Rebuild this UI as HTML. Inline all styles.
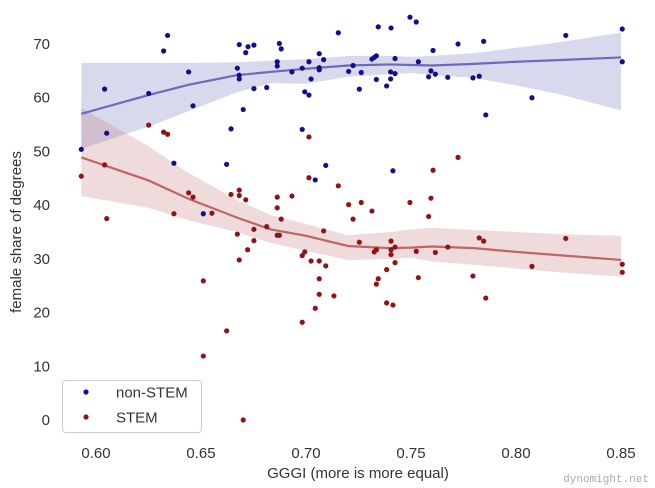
<!DOCTYPE html>
<html><head><meta charset="utf-8"><style>
html,body{margin:0;padding:0;background:#fff;}
svg{display:block;font-family:"Liberation Sans",sans-serif;}
</style></head><body>
<svg id="chart" width="655" height="488" viewBox="0 0 655 488"></svg>
<script>
const fitX=[0.593,0.625,0.644,0.667,0.683,0.70,0.72,0.74,0.75,0.76,0.78,0.80,0.82,0.85];
const blueFit=[57.0,60.5,62.4,64.2,64.8,65.4,66.0,66.2,66.1,66.0,66.3,66.7,67.0,67.5];
const blueUpper=[66.5,66.5,66.5,66.6,66.9,67.2,67.8,67.8,67.6,67.8,68.3,69.3,70.3,72.1];
const blueLower=[50.5,54.6,57.5,61.0,62.7,62.6,63.9,64.4,64.6,64.2,63.7,62.3,60.7,57.7];
const redFit=[48.9,44.6,41.2,37.7,35.5,34.3,32.4,32.0,32.1,32.3,32.0,31.3,30.7,29.8];
const redUpper=[58.1,51,46.0,41,38.2,36.5,34.4,35.0,35.5,35.8,35.4,35.0,34.6,34.3];
const redLower=[41.7,39.5,37.2,35,33.0,31.5,29.8,30,30.2,29.5,28.9,28.2,27.5,26.7];
const nonStemX=[0.6341,0.6322,0.6682,0.6724,0.6752,0.6713,0.6441,0.6673,0.6682,0.6682,0.6041,0.6251,0.6752,0.6813,0.6462,0.6701,0.6051,0.6643,0.5930,0.6371,0.6622,0.6511,0.6873,0.6882,0.7154,0.7344,0.7405,0.7495,0.7525,0.7724,0.7605,0.6863,0.6863,0.6933,0.6982,0.7014,0.7063,0.7084,0.7063,0.7063,0.7024,0.6994,0.7014,0.7203,0.7224,0.7263,0.7254,0.7314,0.7325,0.7335,0.7424,0.7403,0.7424,0.7335,0.7403,0.7384,0.7535,0.7595,0.7584,0.7616,0.7675,0.6982,0.7094,0.7044,0.7414,0.7846,0.8237,0.8506,0.8506,0.7795,0.7825,0.8076,0.7856];
const nonStemY=[71.6,68.7,69.9,69.5,69.8,68.4,64.8,65.5,64.2,63.5,61.6,60.8,61.7,61.9,58.5,57.8,53.4,54.2,50.4,47.8,47.6,38.4,70.1,69.1,72.1,73.2,73.0,75.0,74.1,70.0,68.8,66.7,65.9,64.8,65.5,66.7,68.2,67.1,65.6,65.2,63.5,61.1,60.5,64.9,66.0,64.7,61.6,67.2,67.5,67.8,67.3,64.8,64.5,63.4,63.5,62.2,66.7,65.0,63.9,64.4,63.8,54.1,47.4,44.7,46.4,70.5,71.6,72.8,66.7,63.7,64.0,60.0,56.8];
const stemX=[0.6251,0.6322,0.6341,0.6041,0.5930,0.6051,0.6441,0.6462,0.6643,0.6682,0.6682,0.6713,0.6371,0.6552,0.6673,0.6752,0.6813,0.6752,0.6722,0.6682,0.6511,0.6622,0.6511,0.6701,0.7014,0.7014,0.7724,0.7605,0.7154,0.6863,0.6933,0.6863,0.6882,0.6863,0.6873,0.7084,0.7203,0.7263,0.7224,0.7314,0.7495,0.7595,0.7584,0.7254,0.6994,0.6982,0.7024,0.7063,0.7094,0.7063,0.7063,0.7133,0.7044,0.6982,0.7325,0.7335,0.7405,0.7405,0.7424,0.7405,0.7424,0.7384,0.7344,0.7335,0.7384,0.7414,0.7525,0.7616,0.7675,0.7535,0.7825,0.7846,0.8237,0.8076,0.8506,0.8506,0.7795,0.7856];
const stemY=[54.9,53.6,53.2,47.5,45.4,37.5,42.3,41.5,42.0,42.8,41.8,41.0,38.4,38.5,34.6,35.5,36.0,33.4,31.7,29.8,25.9,16.6,11.9,0,52.7,45.1,48.9,46.5,43.6,41.5,41.7,39.5,37.4,34.4,34.4,35.2,40.1,40.5,37.4,38.9,40.5,41.3,37.9,33.1,31.3,30.6,29.6,29.6,28.7,26.3,23.4,23.1,20.8,18.2,31.3,31.7,33.3,31.7,32.2,30.8,29.3,28.0,26.3,25.3,21.8,21.4,31.4,31.2,32.2,26.5,33.9,33.3,33.8,28.6,29.0,27.5,26.8,22.7];
const xTicks=[0.60,0.65,0.70,0.75,0.80,0.85];
const xTickLabels=["0.60","0.65","0.70","0.75","0.80","0.85"];
const yTicks=[0,10,20,30,40,50,60,70];
const yTickLabels=["0","10","20","30","40","50","60","70"];

const NS="http://www.w3.org/2000/svg";
const svg=document.getElementById('chart');
function X(v){return 96+(v-0.60)*2100;}
function Y(v){return 420-v*5.371;}
function mk(tag,attrs,parent){const e=document.createElementNS(NS,tag);for(const k in attrs)e.setAttribute(k,attrs[k]);(parent||svg).appendChild(e);return e;}

function band(up,lo,fill,name){
  let d="M"+fitX.map((x,i)=>X(x)+","+Y(up[i])).join(" L");
  for(let i=fitX.length-1;i>=0;i--)d+=" L"+X(fitX[i])+","+Y(lo[i]);
  const p=mk('path',{d:d+"Z",fill:fill});
  
  
}
function line(vals,stroke,name){
  const p=mk('path',{d:"M"+fitX.map((x,i)=>X(x)+","+Y(vals[i])).join(" L"),fill:"none",stroke:stroke,"stroke-width":2.2});
  
  
}
band(blueUpper,blueLower,"rgba(120,120,195,0.28)","non-stem-ci-band");
band(redUpper,redLower,"rgba(190,110,115,0.25)","stem-ci-band");
line(blueFit,"#6a6abf","non-stem-fit-line");
line(redFit,"#c06464","stem-fit-line");

nonStemX.forEach((x,i)=>{
  const c=mk('circle',{cx:X(x),cy:Y(nonStemY[i]),r:2.6,fill:"#10108f"});
  
  
});
stemX.forEach((x,i)=>{
  const c=mk('circle',{cx:X(x),cy:Y(stemY[i]),r:2.6,fill:"#8f1515"});
  
  
});

xTicks.forEach((t,i)=>{
  const e=mk('text',{x:X(t),y:458,"text-anchor":"middle","font-size":15,fill:"#333"});
  e.textContent=xTickLabels[i];
  
  
});
yTicks.forEach((t,i)=>{
  const e=mk('text',{x:50,y:Y(t)+5,"text-anchor":"end","font-size":15,fill:"#333"});
  e.textContent=yTickLabels[i];
  
  
});
</script>
<script>
(function(){
const NS="http://www.w3.org/2000/svg";const svg=document.getElementById('chart');
const xl=document.createElementNS(NS,'text');
xl.setAttribute('x',358);xl.setAttribute('y',478);xl.setAttribute('text-anchor','middle');xl.setAttribute('font-size',15);xl.setAttribute('fill','#333');
xl.textContent='GGGI (more is more equal)';


svg.appendChild(xl);
const yl=document.createElementNS(NS,'text');
yl.setAttribute('transform','translate(21,232) rotate(-90)');yl.setAttribute('text-anchor','middle');yl.setAttribute('font-size',15);yl.setAttribute('fill','#333');
yl.textContent='female share of degrees';


svg.appendChild(yl);
const wm=document.createElementNS(NS,'text');
wm.setAttribute('x',649);wm.setAttribute('y',482);wm.setAttribute('text-anchor','end');wm.setAttribute('font-size',11);wm.setAttribute('fill','#aaa');wm.setAttribute('font-family','"Liberation Mono",monospace');
wm.textContent='dynomight.net';


svg.appendChild(wm);
const g=document.createElementNS(NS,'g');


svg.appendChild(g);
g.innerHTML='<rect x="62.5" y="380.5" width="139" height="52" rx="3" fill="#fff" stroke="#ccc" stroke-width="1"/>'+
'<circle cx="86" cy="392" r="2.6" fill="#10108f"/>'+
'<text x="116" y="397.5" font-size="15" fill="#333">non-STEM</text>'+
'<circle cx="86" cy="417" r="2.6" fill="#8f1515"/>'+
'<text x="116" y="422.5" font-size="15" fill="#333">STEM</text>';
})();
</script>
</body></html>
